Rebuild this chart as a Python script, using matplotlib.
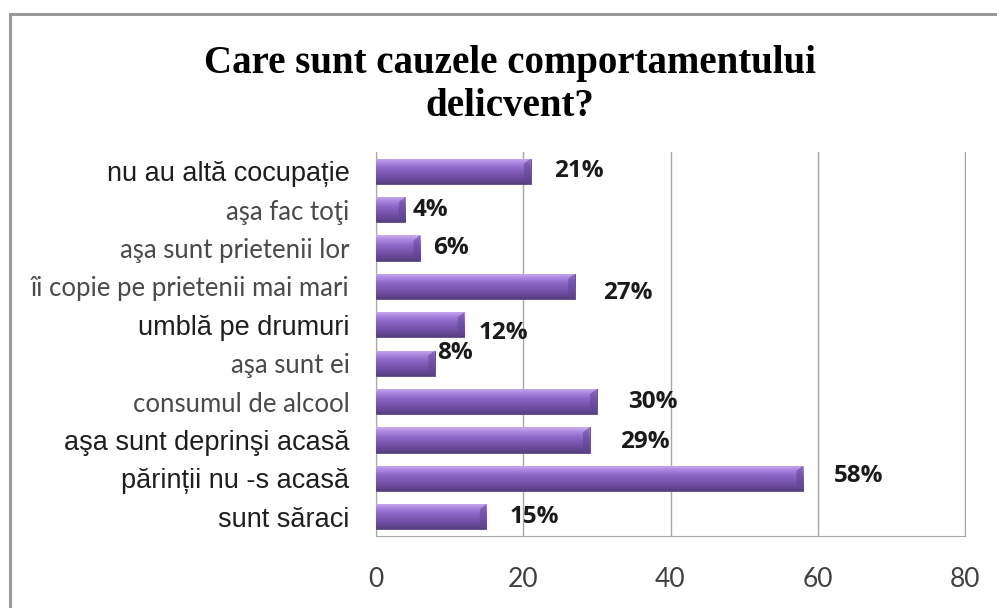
import matplotlib.pyplot as plt
import matplotlib.patches as mpatches
from matplotlib.colors import LinearSegmentedColormap
import numpy as np

# categories top -> bottom, as in the chart
cauze = ['nu au altă cocupație', 'aşa fac toţi', 'aşa sunt prietenii lor',
         'îi copie pe prietenii mai mari', 'umblă pe drumuri', 'aşa sunt ei',
         'consumul de alcool', 'aşa sunt deprinşi acasă', 'părinții nu -s acasă',
         'sunt săraci']
procente = [21, 4, 6, 27, 12, 8, 30, 29, 58, 15]
# which labels are in the heavier (Arial-like) font in the original
arial_lbl = [True, False, False, False, True, False, False, True, True, True]
# manual label nudges (pixels) used in the original chart
lbl_dx = [48, 25, 31, 53, 39, 20, 56, 55, 56, 48]
lbl_dy = [0, 0, 0, -7, -8, 10, 0, -2, 2, 0]
ticks_x = [0, 20, 40, 60, 80]

fig = plt.figure(figsize=(9.97, 6.08), dpi=100)
fig.patch.set_facecolor('white')

# outer chart border (only top and left visible in the crop)
fig.add_artist(plt.Line2D([10/997, 10/997], [0, 1-14/608], color='#9a9a9a', lw=2.2,
                          transform=fig.transFigure))
fig.add_artist(plt.Line2D([10/997, 1], [1-14/608, 1-14/608], color='#9a9a9a', lw=2.2,
                          transform=fig.transFigure))

fig.text(510/997, 1-64/608, 'Care sunt cauzele comportamentului',
         ha='center', va='center', family='Liberation Serif', weight='bold',
         fontsize=28, color='black')
fig.text(510/997, 1-106/608, 'delicvent?',
         ha='center', va='center', family='Liberation Serif', weight='bold',
         fontsize=28, color='black')

ax = fig.add_axes([376/997, 1-536/608, (965-376)/997, (536-152)/608])
y = np.arange(len(cauze))
bars = ax.barh(y, procente, height=0.66, color='#7d5cb8', zorder=3)

cmap = LinearSegmentedColormap.from_list('mov', ['#c8acf3', '#a884de', '#8c66c6',
                                                  '#7b58b3', '#6a4b9c', '#56407e'])
grad = np.linspace(0, 1, 64).reshape(-1, 1)
for b in bars:
    x0, y0 = b.get_x(), b.get_y()
    w, h = b.get_width(), b.get_height()
    im = ax.imshow(grad, cmap=cmap, aspect='auto', extent=[x0, x0 + w, y0 + h, y0],
                   zorder=4, interpolation='bicubic')
    im.set_clip_path(b)
    b.set_edgecolor('#5a4486')
    b.set_linewidth(0.6)
    # small darker bevel at the bar end
    ax.add_patch(mpatches.Polygon([[x0 + w - 0.9, y0 + h * 0.2], [x0 + w, y0],
                                   [x0 + w, y0 + h], [x0 + w - 0.9, y0 + h * 0.8]],
                                  closed=True, color='#5e4690', alpha=0.55, zorder=5, lw=0))

for i, v in enumerate(procente):
    ax.annotate(f'{v}%', (v, y[i]), xytext=(lbl_dx[i], lbl_dy[i]),
                textcoords='offset pixels', ha='center', va='center',
                family='Open Sans', weight='bold', fontsize=17.5, color='#1a1a1a',
                zorder=6)

ax.set_xlim(0, 80)
ax.set_ylim(len(cauze) - 0.5, -0.5)
ax.set_xticks(ticks_x)
ax.set_xticklabels([str(t) for t in ticks_x], family='Lato', fontsize=19, color='#404040')
ax.tick_params(axis='x', length=0, pad=22)
ax.set_yticks(y)
ax.set_yticklabels(cauze)
ax.tick_params(axis='y', length=0, pad=19)
for lbl, ar in zip(ax.get_yticklabels(), arial_lbl):
    if ar:
        lbl.set_family('Liberation Sans')
        lbl.set_fontsize(19.5)
        lbl.set_color('#1e1e1e')
    else:
        lbl.set_family('Lato')
        lbl.set_fontsize(18.5)
        lbl.set_color('#4a4a4a')

ax.grid(axis='x', color='#a8a8a8', lw=1, zorder=0)
for s in ['top']:
    ax.spines[s].set_visible(False)
for s in ['left', 'bottom', 'right']:
    ax.spines[s].set_color('#a8a8a8')
ax.set_facecolor('white')

fig.savefig('out.png', dpi=100)
